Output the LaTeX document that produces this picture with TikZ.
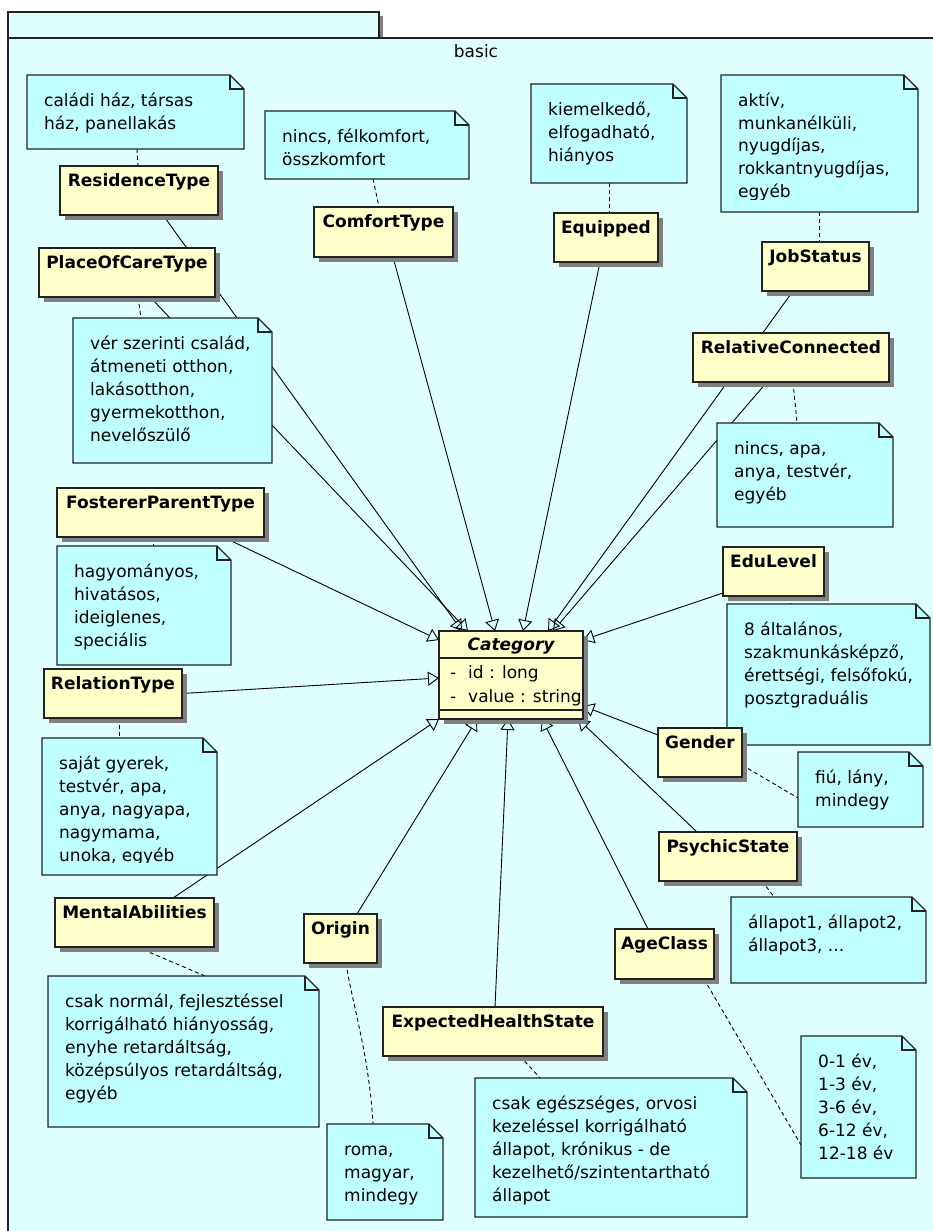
\documentclass[tikz,border=0pt]{standalone}
\usepackage{fontspec}
\setmainfont{DejaVu Sans}
\usetikzlibrary{arrows.meta,calc,shadows}

\definecolor{pkgfill}{RGB}{223,255,255}
\definecolor{notefill}{RGB}{191,255,255}
\definecolor{classfill}{RGB}{255,255,202}
\definecolor{edgecol}{RGB}{34,34,34}
\definecolor{shadowcol}{RGB}{128,128,128}

\pgfdeclarelayer{pkglayer}
\pgfdeclarelayer{wirelayer}
\pgfsetlayers{pkglayer,wirelayer,main}

\newcommand\diagfont{\fontsize{17pt}{23pt}\selectfont}
% lines of a note, first baseline = baseline of the box
\newcommand\stack[1]{\vtop{\baselineskip=23pt\lineskiplimit=-50pt\lineskip=0pt\halign{##\hfil\cr#1\crcr}}}

% \umlnoteframe{name}{x1}{y1}{x2}{y2}: note outline with folded corner
\newcommand\umlnoteframe[5]{%
  \node[notebase, minimum width={(#4-#2)*1pt}, minimum height={(#5-#3)*1pt}] (#1) at ({(#2+#4)/2},{(#3+#5)/2}) {};
  \draw[noteframe] (#1.north west) -- ($(#1.north east)+(-14,0)$) -- ($(#1.north east)+(0,14)$) -- (#1.south east) -- (#1.south west) -- cycle;
  \draw[foldline] ($(#1.north east)+(-14,0)$) -- ($(#1.north east)+(-14,14)$) -- ($(#1.north east)+(0,14)$);
}
% \notelines{name}{lines}: text block of a note
\newcommand\notelines[2]{%
  \node[notetext] (#1-text) at ($(#1.north west)+(17,31)$) {\stack{#2}};
}
% \umlnote{name}{x1}{y1}{x2}{y2}{lines}
\newcommand\umlnote[6]{\umlnoteframe{#1}{#2}{#3}{#4}{#5}\notelines{#1}{#6}}
% \umlclass{name}{x1}{y1}{x2}{y2}{title}
\newcommand\umlclass[6]{%
  \node[classbox, minimum width={(#4-#2)*1pt}, minimum height={(#5-#3)*1pt}] (#1) at ({(#2+#4)/2},{(#3+#5)/2}) {};
  \node[classtitle] (#1-title) at ($(#1.north)+(0,20)$) {#6};
}

\begin{document}
\begin{tikzpicture}[x=1pt,y=-1pt,
  pkgbox/.style={draw=edgecol, line width=1.2pt, fill=pkgfill, rectangle, inner sep=0pt, outer sep=0pt},
  classbox/.style={draw=edgecol, line width=1.2pt, fill=classfill, rectangle, inner sep=0pt, outer sep=0pt,
    drop shadow={shadow xshift=5pt, shadow yshift=-5pt, fill=shadowcol, opacity=1}},
  notebase/.style={rectangle, inner sep=0pt, outer sep=0pt},
  noteframe/.style={draw=edgecol, line width=1.2pt, fill=notefill, line join=miter},
  foldline/.style={draw=edgecol, line width=1.2pt},
  notetext/.style={anchor=base west, inner sep=0pt, font=\diagfont},
  classtitle/.style={anchor=base, inner sep=0pt, font=\diagfont\bfseries},
  realize/.style={draw=black, line width=0.9pt, -{Triangle[open, length=11pt, width=14pt]}},
  notelink/.style={draw=black, line width=0.9pt, dash pattern=on 4pt off 3pt}]

\useasboundingbox (0,0) rectangle (933,1231);
\clip (0,0) rectangle (933,1231);

% package "basic"
\begin{pgfonlayer}{pkglayer}
  \fill[white] (0,0) rectangle (933,1231);
  \node[pkgbox, minimum width=371pt, minimum height=26pt,
    drop shadow={shadow xshift=4pt, shadow yshift=-4pt, fill=shadowcol, opacity=1}] (pkgtab) at (193.5,25) {};
  \node[pkgbox, minimum width=950pt, minimum height=1230pt] (pkg) at (483,653) {};
  \node[anchor=base, inner sep=0pt, font=\diagfont] (pkg-label) at (476,58) {basic};
\end{pgfonlayer}

% notes
\umlnote{nres}{27}{75}{244}{149}{caládi ház, társas\cr ház, panellakás}
\umlnote{ncom}{265}{111}{469}{179}{nincs, félkomfort,\cr összkomfort}
\umlnote{nequ}{531}{84}{687}{183}{kiemelkedő,\cr elfogadható,\cr hiányos}
\umlnoteframe{njob}{721}{75}{918}{212}
\begin{scope}
  \clip (721,75) rectangle (918,199.5);
  \notelines{njob}{aktív,\cr munkanélküli,\cr nyugdíjas,\cr rokkantnyugdíjas,\cr egyéb}
\end{scope}
\umlnote{npoc}{73}{318}{272}{463}{vér szerinti család,\cr átmeneti otthon,\cr lakásotthon,\cr gyermekotthon,\cr nevelőszülő}
\umlnote{nrel}{717}{423}{893}{527}{nincs, apa,\cr anya, testvér,\cr egyéb}
\umlnote{nfos}{57}{546}{231}{665}{hagyományos,\cr hivatásos,\cr ideiglenes,\cr speciális}
\umlnote{nedu}{727}{604}{930}{745}{8 általános,\cr szakmunkásképző,\cr érettségi, felsőfokú,\cr posztgraduális}
\umlnoteframe{nrlt}{42}{738}{217}{875}
\begin{scope}
  \clip (42,738) rectangle (217,862.5);
  \notelines{nrlt}{saját gyerek,\cr testvér, apa,\cr anya, nagyapa,\cr nagymama,\cr unoka, egyéb}
\end{scope}
\umlnote{ngen}{798}{752}{923}{827}{fiú, lány,\cr mindegy}
\umlnote{npsy}{731}{897}{926}{983}{állapot1, állapot2,\cr állapot3, ...}
\umlnote{nmen}{48}{976}{319}{1127}{csak normál, fejlesztéssel\cr korrigálható hiányosság,\cr enyhe retardáltság,\cr középsúlyos retardáltság,\cr egyéb}
\umlnote{nori}{327}{1124}{443}{1220}{roma,\cr magyar,\cr mindegy}
\umlnote{nexp}{475}{1078}{747}{1217}{csak egészséges, orvosi\cr kezeléssel korrigálható\cr állapot, krónikus - de\cr kezelhető/szintentartható\cr állapot}
\umlnote{nage}{801}{1036}{916}{1178}{0-1 év,\cr 1-3 év,\cr 3-6 év,\cr 6-12 év,\cr 12-18 év}

% classes
\umlclass{res}{60}{166}{218}{215}{ResidenceType}
\umlclass{poc}{39}{248}{215}{297}{PlaceOfCareType}
\umlclass{com}{314}{207}{453}{257}{ComfortType}
\umlclass{equ}{554}{213}{658}{262}{Equipped}
\umlclass{job}{762}{242}{869}{291}{JobStatus}
\umlclass{rel}{693}{333}{889}{382}{RelativeConnected}
\umlclass{fos}{57}{488}{264}{537}{FostererParentType}
\umlclass{edu}{723}{547}{824}{596}{EduLevel}
\umlclass{rlt}{44}{669}{182}{718}{RelationType}
\umlclass{gender}{658}{728}{742}{777}{Gender}
\umlclass{psy}{659}{832}{797}{881}{PsychicState}
\umlclass{men}{55}{898}{214}{947}{MentalAbilities}
\umlclass{ori}{304}{914}{377}{963}{Origin}
\umlclass{exp}{383}{1007}{603}{1056}{ExpectedHealthState}
\umlclass{age}{615}{929}{714}{979}{AgeClass}

% the common parent class
\node[classbox, minimum width=144pt, minimum height=88pt] (cat) at (511,675) {};
\node[anchor=base, inner sep=0pt, font=\diagfont\bfseries\itshape] (cat-title) at ($(cat.north)+(0,19)$) {Category};
\draw[edgecol, line width=1.2pt] ($(cat.north west)+(0,27)$) -- ($(cat.north east)+(0,27)$);
\draw[edgecol, line width=1.2pt] ($(cat.north west)+(0,79)$) -- ($(cat.north east)+(0,79)$);
\node[anchor=base west, inner sep=0pt, font=\diagfont] (cat-attrs) at ($(cat.north west)+(11,47)$)
  {\vtop{\baselineskip=24pt\halign{#\hfil\cr\makebox[18pt][l]{-}id : long\cr\makebox[18pt][l]{-}value : string\cr}}};

% generalizations and note links, drawn beneath the boxes
\begin{pgfonlayer}{wirelayer}
  \draw[realize] ($(res.south west)+(103,0)$) -- ($(cat.north west)+(23,0)$);
  \draw[realize] ($(poc.south west)+(111,0)$) -- ($(cat.north west)+(29,0)$);
  \draw[realize] ($(com.south west)+(79,0)$) -- ($(cat.north west)+(56,0)$);
  \draw[realize] ($(equ.south west)+(46,0)$) -- ($(cat.north west)+(84,0)$);
  \draw[realize] ($(job.south west)+(31,0)$) -- ($(cat.north west)+(109,0)$);
  \draw[realize] ($(rel.south west)+(74,0)$) -- ($(cat.north west)+(114,0)$);
  \draw[realize] ($(fos.south west)+(166,0)$) -- ($(cat.north west)+(0,9)$);
  \draw[realize] (rlt.east) -- ($(cat.west)+(0,3)$);
  \draw[realize] ($(men.north west)+(118,0)$) -- (cat.south west);
  \draw[realize] ($(ori.north west)+(53,0)$) -- ($(cat.south west)+(38,0)$);
  \draw[realize] ($(exp.north west)+(112,0)$) -- ($(cat.south west)+(69,0)$);
  \draw[realize] ($(age.north west)+(33,0)$) -- ($(cat.south west)+(103,0)$);
  \draw[realize] ($(psy.north west)+(38,0)$) -- ($(cat.south west)+(139,0)$);
  \draw[realize] ($(gender.north west)+(0,7)$) -- ($(cat.south east)+(0,-13)$);
  \draw[realize] ($(edu.south west)+(0,-3)$) -- ($(cat.north east)+(0,9)$);

  \draw[notelink] ($(nres.south west)+(110,0)$) -- ($(res.north west)+(78,0)$);
  \draw[notelink] ($(ncom.south west)+(108,0)$) -- ($(com.north west)+(65,0)$);
  \draw[notelink] ($(nequ.south west)+(78,0)$) -- ($(equ.north west)+(55,0)$);
  \draw[notelink] ($(njob.south west)+(98,0)$) -- ($(job.north west)+(57,0)$);
  \draw[notelink] ($(poc.south west)+(99,0)$) -- ($(npoc.north west)+(68,0)$);
  \draw[notelink] ($(rel.south west)+(100,0)$) -- ($(nrel.north west)+(80,0)$);
  \draw[notelink] ($(fos.south west)+(96,0)$) -- ($(nfos.north west)+(96,0)$);
  \draw[notelink] ($(edu.south west)+(67,0)$) -- ($(nedu.north west)+(63,0)$);
  \draw[notelink] ($(rlt.south west)+(75,0)$) -- ($(nrlt.north west)+(77,0)$);
  \draw[notelink] ($(gender.north east)+(0,37)$) -- ($(ngen.north west)+(0,46)$);
  \draw[notelink] ($(psy.south west)+(103,0)$) -- ($(npsy.north west)+(43,0)$);
  \draw[notelink] ($(men.south west)+(82,0)$) -- ($(nmen.north west)+(157,0)$);
  \draw[notelink] ($(ori.south west)+(42,0)$) .. controls +(6,40) and +(-4,-70) .. ($(nori.north west)+(46,0)$);
  \draw[notelink] ($(exp.south west)+(137,0)$) -- ($(nexp.north west)+(65,0)$);
  \draw[notelink] ($(age.south west)+(89,0)$) -- ($(nage.north west)+(0,109)$);
\end{pgfonlayer}
\end{tikzpicture}
\end{document}
